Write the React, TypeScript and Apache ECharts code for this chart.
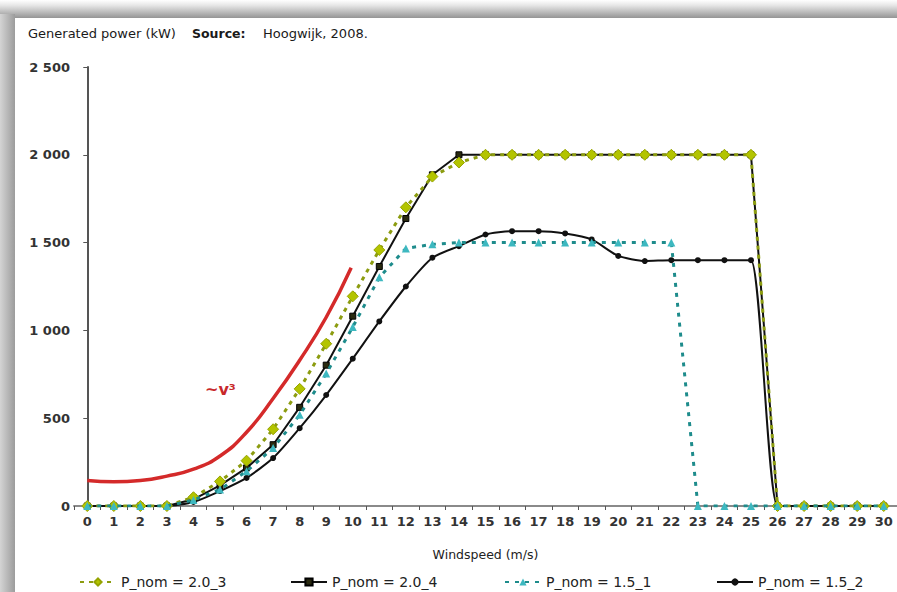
import React, { useEffect, useRef } from "react";
import * as echarts from "echarts";

const windspeed: string[] = Array.from({ length: 31 }, (_, i) => String(i));

const p20_3: number[] = [0, 0, 0, 0, 50, 140, 258, 437, 667, 924, 1194, 1458, 1701, 1876, 1956,
  2000, 2000, 2000, 2000, 2000, 2000, 2000, 2000, 2000, 2000, 2000, 0, 0, 0, 0, 0];
const p20_4: number[] = [0, 0, 0, 0, 38, 117, 217, 349, 562, 802, 1081, 1364, 1637, 1886, 2000,
  2000, 2000, 2000, 2000, 2000, 2000, 2000, 2000, 2000, 2000, 2000, 0, 0, 0, 0, 0];
const p15_1: number[] = [0, 0, 0, 0, 34, 94, 198, 330, 519, 754, 1019, 1302, 1467, 1490, 1500,
  1500, 1500, 1500, 1500, 1500, 1500, 1500, 1500, 0, 0, 0, 0, 0, 0, 0, 0];
const p15_2: number[] = [0, 0, 0, 0, 23, 85, 160, 273, 443, 632, 839, 1051, 1250, 1414, 1480,
  1546, 1565, 1565, 1552, 1518, 1424, 1395, 1400, 1400, 1400, 1400, 0, 0, 0, 0, 0];

// approximate "~v^3" reference curve (x in m/s, y in kW)
const cubeX: number[] = [0, 1, 2, 3, 4, 5, 6, 7, 8, 9, 9.94];
const cubeY: number[] = [145, 138, 145, 170, 210, 285, 420, 612, 830, 1075, 1357];

const yTicks = { min: 0, max: 2500, interval: 500 };

const fmtY = (v: number) =>
  v >= 1000 ? `${Math.floor(v / 1000)} ${String(v % 1000).padStart(3, "0")}` : String(v);

const FONT = "DejaVu Sans";

export default function App() {
  const ref = useRef<HTMLDivElement>(null);
  useEffect(() => {
    if (!ref.current) return;
    const chart = echarts.init(ref.current, undefined, { renderer: "svg" });
    const legendCommon = {
      top: 570,
      itemWidth: 36,
      itemHeight: 9,
      textStyle: { fontFamily: FONT, fontSize: 14, color: "#222" },
      selectedMode: false,
    };
    chart.setOption({
      animation: false,
      backgroundColor: "#ffffff",
      textStyle: { fontFamily: FONT },
      grid: { left: 74, top: 67, width: 824, height: 439, containLabel: false },
      graphic: [
        {
          type: "rect",
          shape: { x: 0, y: 0, width: 897, height: 18 },
          style: {
            fill: new echarts.graphic.LinearGradient(0, 0, 0, 1, [
              { offset: 0, color: "#ffffff" },
              { offset: 0.3, color: "#e6e6e6" },
              { offset: 1, color: "#959595" },
            ]),
          },
          z: -10,
          silent: true,
        },
        {
          type: "rect",
          shape: { x: 0, y: 14, width: 15, height: 578 },
          style: {
            fill: new echarts.graphic.LinearGradient(0, 0, 1, 0, [
              { offset: 0, color: "#d4d4d4" },
              { offset: 1, color: "#9c9c9c" },
            ]),
          },
          z: -10,
          silent: true,
        },
        {
          type: "text",
          left: 28,
          top: 27,
          style: { text: "Generated power (kW)", fontFamily: FONT, fontSize: 13, fill: "#1a1a1a" },
        },
        {
          type: "text",
          left: 192,
          top: 27,
          style: { text: "Source:", fontFamily: FONT, fontSize: 12.5, fontWeight: "bold", fill: "#1a1a1a" },
        },
        {
          type: "text",
          left: 263,
          top: 27,
          style: { text: "Hoogwijk, 2008.", fontFamily: FONT, fontSize: 13, fill: "#1a1a1a" },
        },
        {
          type: "text",
          left: 205,
          top: 381,
          style: { text: "~v³", fontFamily: FONT, fontSize: 16, fontWeight: "bold", fill: "#c8282a" },
        },
      ],
      legend: [
        { ...legendCommon, left: 74, data: ["P_nom = 2.0_3"] },
        { ...legendCommon, left: 285, data: ["P_nom = 2.0_4"] },
        { ...legendCommon, left: 499, data: ["P_nom = 1.5_1"] },
        { ...legendCommon, left: 711, data: ["P_nom = 1.5_2"] },
      ],
      xAxis: [
        {
          type: "category",
          data: windspeed,
          boundaryGap: true,
          name: "Windspeed (m/s)",
          nameLocation: "middle",
          nameGap: 42,
          nameTextStyle: { fontFamily: FONT, fontSize: 12.5, color: "#222" },
          axisLine: { lineStyle: { color: "#8a8a8a", width: 2 } },
          axisTick: { show: true, length: 4, lineStyle: { color: "#555", width: 1 } },
          axisLabel: { fontFamily: FONT, fontSize: 13, fontWeight: "bold", color: "#333", margin: 9, interval: 0 },
          splitLine: { show: false },
        },
        {
          type: "value",
          min: -0.5,
          max: 30.5,
          show: false,
        },
      ],
      yAxis: {
        type: "value",
        min: yTicks.min,
        max: yTicks.max,
        interval: yTicks.interval,
        axisLine: { show: true, lineStyle: { color: "#555", width: 2 } },
        axisTick: { show: true, length: 4, lineStyle: { color: "#555", width: 1 } },
        axisLabel: { fontFamily: FONT, fontSize: 13, fontWeight: "bold", color: "#333", margin: 4, formatter: fmtY },
        splitLine: { show: false },
      },
      series: [
        {
          name: "~v3",
          type: "line",
          xAxisIndex: 1,
          data: cubeX.map((x, i) => [x, cubeY[i]]),
          smooth: 0.5,
          showSymbol: false,
          symbol: "none",
          lineStyle: { color: "#d42a2a", width: 3.5 },
          z: 1,
        },
        {
          name: "P_nom = 1.5_2",
          type: "line",
          data: p15_2,
          smooth: 0.2,
          symbol: "circle",
          symbolSize: 6,
          itemStyle: { color: "#111111" },
          lineStyle: { color: "#111111", width: 2 },
          z: 2,
        },
        {
          name: "P_nom = 2.0_4",
          type: "line",
          data: p20_4,
          symbol: "rect",
          symbolSize: 6,
          itemStyle: { color: "#2a2a10", borderColor: "#000", borderWidth: 1 },
          lineStyle: { color: "#111111", width: 2 },
          z: 3,
        },
        {
          name: "P_nom = 2.0_3",
          type: "line",
          data: p20_3,
          symbol: "diamond",
          symbolSize: 11,
          itemStyle: { color: "#b3c400", borderColor: "#95a300", borderWidth: 1 },
          lineStyle: { color: "#8c9c10", width: 3, type: [4, 5] },
          z: 4,
        },
        {
          name: "P_nom = 1.5_1",
          type: "line",
          data: p15_1,
          symbol: "triangle",
          symbolSize: 8,
          itemStyle: { color: "#3db8c0" },
          lineStyle: { color: "#1e8c8c", width: 3, type: [4, 6] },
          z: 5,
        },
      ],
    });
    return () => chart.dispose();
  }, []);
  return (
    <div
      ref={ref}
      style={{ position: "fixed", left: 0, top: 0, width: 897, height: 592 }}
    />
  );
}
